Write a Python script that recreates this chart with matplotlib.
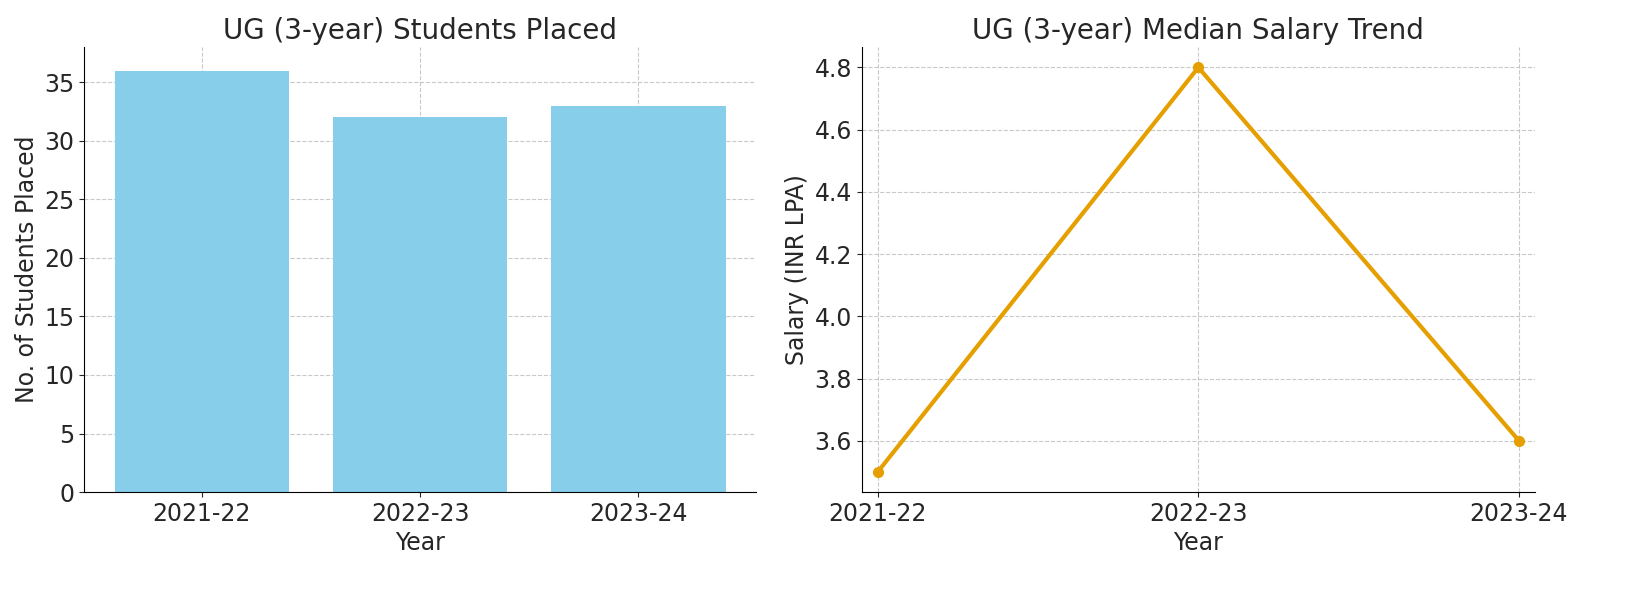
import matplotlib
matplotlib.use("Agg")
import matplotlib.pyplot as plt

years = ["2021-22", "2022-23", "2023-24"]
placed = [36, 32, 33]
salary = [3.5, 4.8, 3.6]

fig = plt.figure(figsize=(16.26, 5.9), dpi=100)
ax1 = fig.add_axes([0.0517, 0.166, 0.4133, 0.754])
ax2 = fig.add_axes([0.530, 0.166, 0.414, 0.754])

tc = "#262626"
for ax in (ax1, ax2):
    ax.spines["top"].set_visible(False)
    ax.spines["right"].set_visible(False)
    ax.grid(True, linestyle="--", color="#bbbbbb", linewidth=0.8, alpha=0.8)
    ax.set_axisbelow(True)
    ax.tick_params(labelsize=17, colors=tc)

ax1.bar(years, placed, color="#87CEEB", width=0.8)
ax1.set_ylim(0, 38)
ax1.set_title("UG (3-year) Students Placed", fontsize=20, color=tc)
ax1.set_xlabel("Year", fontsize=17, color=tc)
ax1.set_ylabel("No. of Students Placed", fontsize=17, color=tc)

ax2.plot(years, salary, color="#E69F00", linewidth=3, marker="o", markersize=7)
ax2.set_xlim(-0.05, 2.05)
ax2.set_ylim(3.435, 4.865)
ax2.set_title("UG (3-year) Median Salary Trend", fontsize=20, color=tc)
ax2.set_xlabel("Year", fontsize=17, color=tc)
ax2.set_ylabel("Salary (INR LPA)", fontsize=17, color=tc)

fig.savefig("out.png", dpi=100)
